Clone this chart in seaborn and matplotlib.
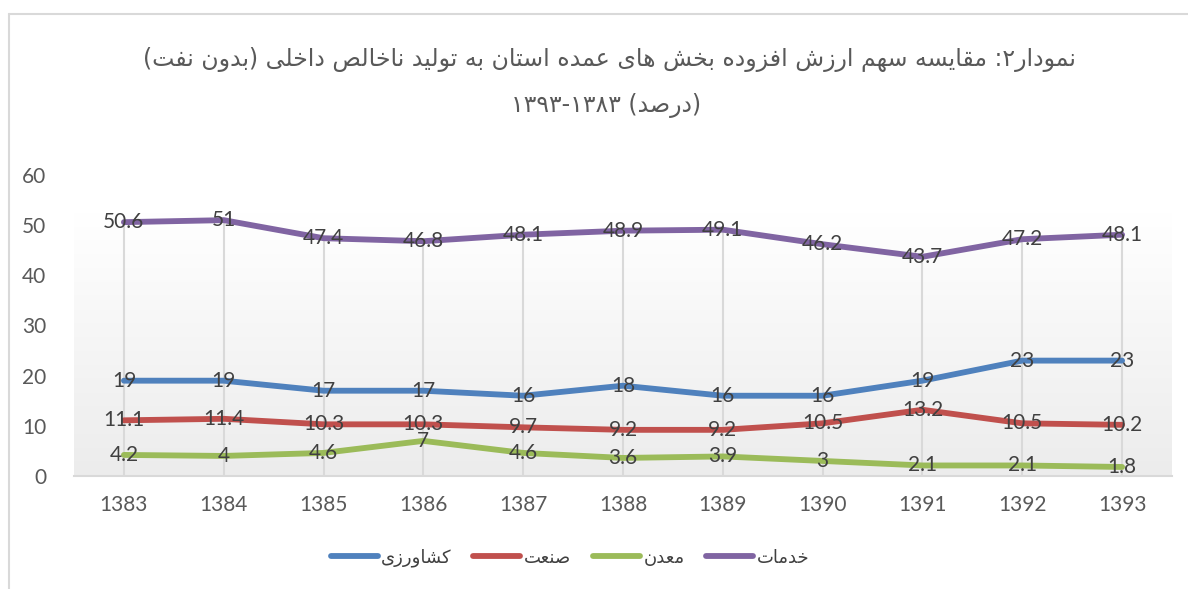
import re
import numpy as np
import pandas as pd
import matplotlib
matplotlib.use('Agg')
import matplotlib.pyplot as plt
import seaborn as sns
from matplotlib.colors import LinearSegmentedColormap
from matplotlib.lines import Line2D

# %%
# داده ها
years = ['1383', '1384', '1385', '1386', '1387', '1388', '1389', '1390', '1391', '1392', '1393']
keshavarzi = [19, 19, 17, 17, 16, 18, 16, 16, 19, 23, 23]
sanat = [11.1, 11.4, 10.3, 10.3, 9.7, 9.2, 9.2, 10.5, 13.2, 10.5, 10.2]
madan = [4.2, 4, 4.6, 7, 4.6, 3.6, 3.9, 3, 2.1, 2.1, 1.8]
khadamat = [50.6, 51, 47.4, 46.8, 48.1, 48.9, 49.1, 46.2, 43.7, 47.2, 48.1]

series_names = ['کشاورزی', 'صنعت', 'معدن', 'خدمات']
series_values = [keshavarzi, sanat, madan, khadamat]
colors = ['#4F81BD', '#C0504D', '#9BBB59', '#8064A2']

title_1 = 'نمودار۲: مقایسه سهم ارزش افزوده بخش های عمده استان به تولید ناخالص داخلی (بدون نفت)'
title_2 = '(درصد) ۱۳۸۳-۱۳۹۳'

# %%
# matplotlib حروف فارسی را به هم نمی چسباند، پس شکل حروف را خودمان انتخاب می کنیم
FORMS = {
    'ا': ('\uFE8D', '\uFE8E', None, None),
    'ب': ('\uFE8F', '\uFE90', '\uFE91', '\uFE92'),
    'ت': ('\uFE95', '\uFE96', '\uFE97', '\uFE98'),
    'خ': ('\uFEA5', '\uFEA6', '\uFEA7', '\uFEA8'),
    'د': ('\uFEA9', '\uFEAA', None, None),
    'ر': ('\uFEAD', '\uFEAE', None, None),
    'ز': ('\uFEAF', '\uFEB0', None, None),
    'س': ('\uFEB1', '\uFEB2', '\uFEB3', '\uFEB4'),
    'ش': ('\uFEB5', '\uFEB6', '\uFEB7', '\uFEB8'),
    'ص': ('\uFEB9', '\uFEBA', '\uFEBB', '\uFEBC'),
    'ع': ('\uFEC9', '\uFECA', '\uFECB', '\uFECC'),
    'ف': ('\uFED1', '\uFED2', '\uFED3', '\uFED4'),
    'ق': ('\uFED5', '\uFED6', '\uFED7', '\uFED8'),
    'ل': ('\uFEDD', '\uFEDE', '\uFEDF', '\uFEE0'),
    'م': ('\uFEE1', '\uFEE2', '\uFEE3', '\uFEE4'),
    'ن': ('\uFEE5', '\uFEE6', '\uFEE7', '\uFEE8'),
    'ه': ('\uFEE9', '\uFEEA', '\uFEEB', '\uFEEC'),
    'و': ('\uFEED', '\uFEEE', None, None),
    'ی': ('\uFBFC', '\uFBFD', '\uFBFE', '\uFBFF'),
    'ک': ('\uFB8E', '\uFB8F', '\uFB90', '\uFB91'),
}
RIGHT_ONLY = set('ادرزو')


def rtl(text):
    out = []
    for i, ch in enumerate(text):
        if ch not in FORMS:
            out.append(ch)
            continue
        prev = text[i - 1] if i > 0 else ''
        nxt = text[i + 1] if i + 1 < len(text) else ''
        join_prev = prev in FORMS and prev not in RIGHT_ONLY
        join_next = nxt in FORMS and ch not in RIGHT_ONLY
        iso, fin, ini, med = FORMS[ch]
        if join_prev and join_next:
            out.append(med)
        elif join_prev:
            out.append(fin)
        elif join_next:
            out.append(ini)
        else:
            out.append(iso)
    vis = ''.join(reversed(out))
    vis = re.sub(r'[0-9۰-۹]+', lambda m: m.group(0)[::-1], vis)
    vis = vis.translate(str.maketrans('()', ')('))
    return vis


# %%
x_pos = list(range(len(years)))
df = pd.DataFrame({
    'x': x_pos * len(series_names),
    'value': sum(series_values, []),
    'series': [rtl(n) for n in series_names for _ in years],
})

sns.set_style('white')
plt.rcParams['font.family'] = ['Lato', 'DejaVu Sans']

fig = plt.figure(figsize=(11.88, 5.89), dpi=100)
ax = fig.add_axes([74 / 1188, 1 - 476 / 589, (1172 - 74) / 1188, (476 - 175) / 589])

# پس زمینه گرادیانی
grad_cmap = LinearSegmentedColormap.from_list('g', ['#ffffff', '#ececec'])
ax.imshow(np.linspace(0, 1, 200).reshape(-1, 1), extent=(-0.5, 10.5, 0, 52.6),
          cmap=grad_cmap, aspect='auto', zorder=0)

# خطوط عمودی
ax.vlines(x_pos, 0, khadamat, color='#d9d9d9', lw=1.5, zorder=1)

sns.lineplot(data=df, x='x', y='value', hue='series', palette=colors, lw=4.2,
             sort=False, ax=ax, zorder=3, legend=True)

for vals in series_values:
    for xi, v in zip(x_pos, vals):
        ax.text(xi, v, f'{v:g}', ha='center', va='center', fontsize=15,
                color='#404040', zorder=4)

ax.set_xlim(-0.5, 10.5)
ax.set_ylim(0, 60)
ax.set_yticks(range(0, 61, 10))
ax.set_xticks(x_pos)
ax.set_xticklabels(years)
ax.tick_params(axis='both', length=0, labelsize=15, labelcolor='#595959')
ax.tick_params(axis='y', pad=20)
ax.tick_params(axis='x', pad=14)
ax.set_xlabel('')
ax.set_ylabel('')
for s in ['left', 'top', 'right']:
    ax.spines[s].set_visible(False)
ax.spines['bottom'].set_color('#d9d9d9')
ax.spines['bottom'].set_linewidth(1.5)

handles, labels = ax.get_legend_handles_labels()
ax.legend_.remove()
leg = fig.legend(handles, labels, loc='center', bbox_to_anchor=(570 / 1188, 1 - 558 / 589),
                 ncol=4, frameon=False, fontsize=13, handlelength=2.6, columnspacing=1.2,
                 handletextpad=0.2)
for t in leg.get_texts():
    t.set_color('#404040')
    t.set_family('DejaVu Sans')
for h in leg.legend_handles:
    h.set_linewidth(4.2)
    h.set_solid_capstyle('round')

fig.text(609 / 1188, 1 - 60 / 589, rtl(title_1), ha='center', va='center',
         fontsize=17, color='#595959', family='DejaVu Sans')
fig.text(606 / 1188, 1 - 106 / 589, rtl(title_2), ha='center', va='center',
         fontsize=17, color='#595959', family='DejaVu Sans')

# قاب دور نمودار
fig.add_artist(Line2D([9 / 1188, 1], [1 - 14 / 589, 1 - 14 / 589], color='#d9d9d9', lw=1.5))
fig.add_artist(Line2D([9 / 1188, 9 / 1188], [0, 1 - 14 / 589], color='#d9d9d9', lw=1.5))

fig.savefig('out.png', dpi=100)
